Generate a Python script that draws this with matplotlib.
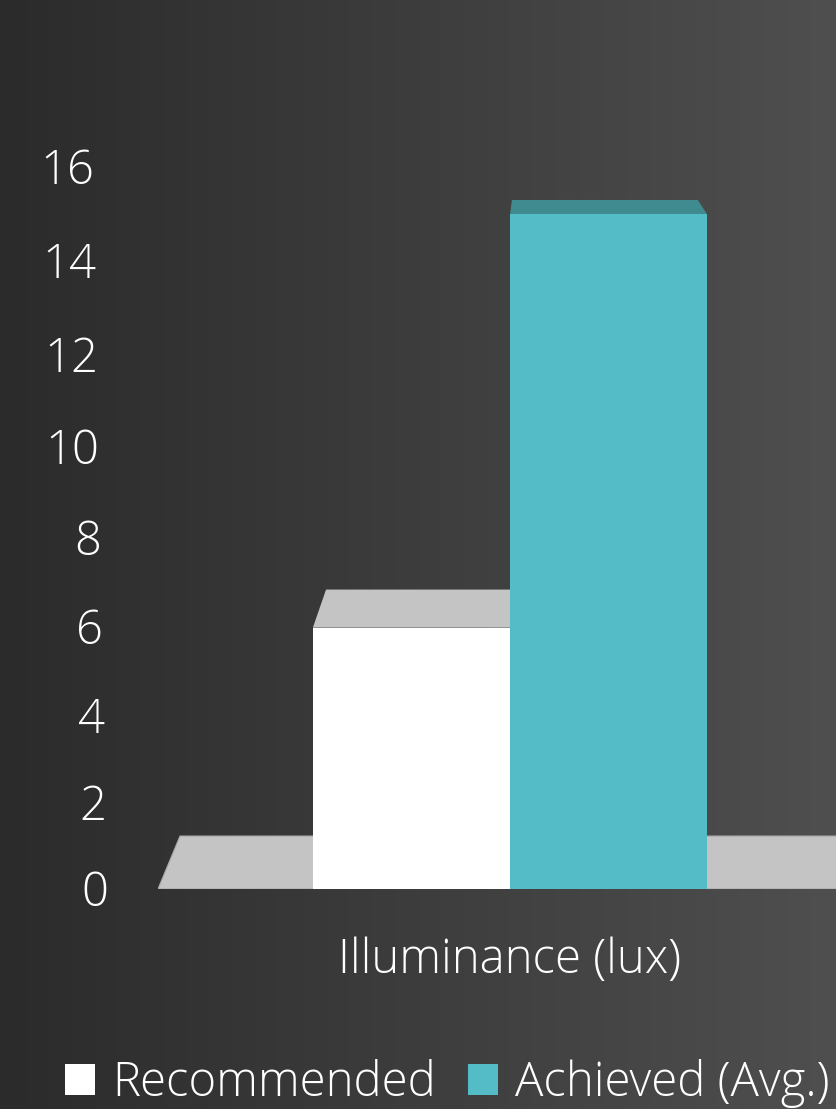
import numpy as np
import matplotlib.pyplot as plt
from matplotlib.patches import Polygon, Patch
from matplotlib.colors import LinearSegmentedColormap
from matplotlib.transforms import blended_transform_factory, offset_copy

# chart data
category = 'Illuminance (lux)'
series = ['Recommended', 'Achieved (Avg.)']
values = [6, 15]
front_colors = ['#ffffff', '#53bcc6']
top_colors = ['#c4c4c4', '#3f8b90']
yticks = [0, 2, 4, 6, 8, 10, 12, 14, 16]

plt.rcParams['font.family'] = ['Open Sans', 'DejaVu Sans']
FS = 34
TXT = '#ffffff'

fig = plt.figure(figsize=(8.36, 11.09), dpi=100)

# dark horizontal gradient behind everything
bg = fig.add_axes([0, 0, 1, 1], zorder=-1)
cmap = LinearSegmentedColormap.from_list('bg', ['#2b2b2b', '#4f4f4f'])
bg.imshow(np.linspace(0, 1, 256)[None, :], aspect='auto', cmap=cmap,
          extent=[0, 1, 0, 1])
bg.axis('off')

ax = fig.add_axes([158 / 836, 220 / 1109, 704 / 836, 722 / 1109])
# values spread a little toward the top, like a tilted 3-D wall
k = 0.00367
ax.set_yscale('function', functions=(
    lambda v: v + k * v * v,
    lambda u: (np.sqrt(np.maximum(1 + 4 * k * u, 0)) - 1) / (2 * k)))
ax.set_ylim(0, 16)
ax.set_xlim(-0.5, 0.5)
ax.axis('off')

# perspective: back plane shrinks toward a vanishing point above the plot
vp = ax.transAxes.transform((0.548, 1.287))
depth = 0.943


def face(front_disp):
    back = vp + depth * (front_disp - vp)
    disp = np.vstack([front_disp, back[::-1]])
    return ax.transData.inverted().transform(disp)


# floor
floor_front = ax.transAxes.transform([(0, 0), (1, 0)])
ax.add_patch(Polygon(face(floor_front), closed=True, facecolor='#c4c4c4',
                     edgecolor='#a9a9a9', lw=0.8, zorder=1))

width = 0.28
xs = [-width / 2, width / 2]
for i, (x, v) in enumerate(zip(xs, values)):
    front_top = ax.transData.transform([(x - width / 2, v), (x + width / 2, v)])
    ax.add_patch(Polygon(face(front_top), closed=True,
                         facecolor=top_colors[i], lw=0, zorder=2 + 2 * i))
    ax.bar(x, v, width=width, color=front_colors[i], lw=0, zorder=3 + 2 * i)

# y tick labels, slightly slanted column
tick_tr = offset_copy(ax.get_yaxis_transform(), fig=fig, x=2.5, y=-4.5,
                      units='dots')
for v in yticks:
    xa = -0.0739 - 0.0199 * v / 16
    ax.text(xa, v, str(v), transform=tick_tr, ha='right', va='center',
            fontsize=FS, color=TXT, fontweight='light')

trans = blended_transform_factory(ax.transData, ax.transAxes)
ax.text(0, -0.117, category, transform=trans, ha='center', va='baseline',
        fontsize=FS, color=TXT, fontweight='light')

handles = [Patch(facecolor=c, edgecolor='none', label=s)
           for c, s in zip(front_colors, series)]
fig.legend(handles=handles, loc='center left',
           bbox_to_anchor=(65 / 836, 25 / 1109), ncol=2, frameon=False,
           labelcolor=TXT, borderpad=0, borderaxespad=0, handlelength=0.63,
           handleheight=0.63, handletextpad=0.37, columnspacing=0.68,
           prop={'weight': 'light', 'size': FS})

fig.savefig('out.png', dpi=100)
